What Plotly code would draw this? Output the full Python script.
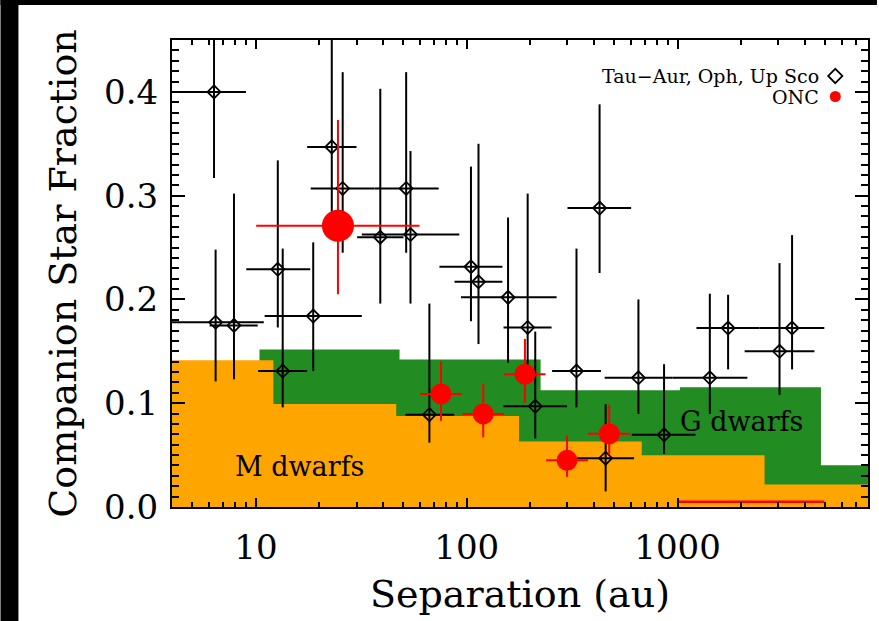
import numpy as np
import plotly.graph_objects as go

# ---------------- data ----------------
# Tau-Aur, Oph, Up Sco: separation bin centre / edges (au) and companion fraction with limits
tau_sep    = [6.33, 6.44, 7.87, 12.7, 13.4, 18.7, 22.9, 25.8, 38.9, 51.6, 54.1, 66.5, 104.7,
              113.7, 157.0, 194.5, 211.3, 331.5, 426.6, 455.8, 652.0, 862.6, 1422.0, 1736.0, 3044.0, 3491.0]
tau_sep_lo = [4.47, 3.81, 6.03, 9.0, 10.25, 11.0, 17.5, 18.2, 30.2, 36.5, 31.8, 51.2, 74.2,
              87.5, 93.9, 149.4, 149.4, 254.0, 300.6, 333.6, 451.0, 606.0, 944.0, 1229.0, 2080.0, 2449.0]
tau_sep_hi = [8.97, 10.9, 10.2, 18.1, 17.5, 31.8, 30.0, 36.5, 50.1, 73.6, 92.2, 87.2, 147.6,
              147.6, 266.8, 252.5, 299.0, 433.0, 602.0, 622.0, 944.0, 1216.0, 2143.0, 2449.0, 4457.0, 4966.0]
tau_frac   = [0.400, 0.178, 0.175, 0.229, 0.131, 0.184, 0.347, 0.307, 0.260, 0.307, 0.2625, 0.089, 0.2315,
              0.217, 0.202, 0.173, 0.097, 0.131, 0.288, 0.047, 0.1245, 0.0696, 0.1245, 0.1724, 0.150, 0.1724]
tau_lo     = [0.317, 0.121, 0.123, 0.173, 0.096, 0.131, 0.258, 0.245, 0.196, 0.245, 0.196, 0.062, 0.179,
              0.157, 0.139, 0.127, 0.066, 0.096, 0.2255, 0.015, 0.0897, 0.0511, 0.0897, 0.1326, 0.108, 0.1326]
tau_hi     = [0.483, 0.248, 0.302, 0.334, 0.249, 0.255, 0.470, 0.419, 0.403, 0.419, 0.343, 0.196, 0.328,
              0.350, 0.279, 0.302, 0.169, 0.249, 0.388, 0.099, 0.200, 0.1376, 0.2055, 0.2045, 0.235, 0.262]

# ONC
onc_sep    = [24.5, 75.5, 119.7, 188.8, 299.0, 474.0]
onc_sep_lo = [10.03, 60.1, 95.5, 150.3, 238.0, 375.6]
onc_sep_hi = [59.7, 94.8, 150.3, 236.6, 375.6, 596.0]
onc_frac   = [0.271, 0.109, 0.0897, 0.128, 0.045, 0.0706]
onc_lo     = [0.205, 0.083, 0.067, 0.1006, 0.029, 0.0505]
onc_hi     = [0.373, 0.1405, 0.119, 0.162, 0.069, 0.0984]
onc_npts   = [2.0, 1.0, 1.0, 1.0, 1.0, 1.0]       # relative sample weight -> marker size
# ONC bin with no companions found
onc_zero_sep = [1000.0, 4966.0]
onc_zero_frac = [0.005, 0.005]

# Field populations (step histograms): bin edges (au) and companion fraction per bin
m_edges = [3.17, 12.1, 46.3, 177.0, 676.0, 2585.0, 9890.0]
m_frac  = [0.1415, 0.0993, 0.0878, 0.0632, 0.0498, 0.0217]
g_edges = [10.4, 48.0, 224.0, 1026.0, 4786.0, 22000.0]
g_frac  = [0.1517, 0.1421, 0.1124, 0.1153, 0.0402]

x_ticks = [10, 100, 1000]
x_ticktext = ["10", "100", "1000"]
y_ticks = [0.0, 0.1, 0.2, 0.3, 0.4]
y_ticktext = ["0.0", "0.1", "0.2", "0.3", "0.4"]

# ---------------- figure ----------------
W, H = 879, 621
ML, MR, MT, MB = 172, 9, 40, 114
FONT = "DejaVu Serif"

fig = go.Figure()


def step_xy(edges, vals):
    return list(edges), list(vals) + [vals[-1]]


gx, gy = step_xy(g_edges, g_frac)
fig.add_trace(go.Scatter(x=gx, y=gy, mode="lines", line=dict(shape="hv", width=0, color="#228B22"),
                         fill="tozeroy", fillcolor="#228B22", hoverinfo="skip", showlegend=False))
mx, my = step_xy(m_edges, m_frac)
fig.add_trace(go.Scatter(x=mx, y=my, mode="lines", line=dict(shape="hv", width=0, color="#FFA500"),
                         fill="tozeroy", fillcolor="#FFA500", hoverinfo="skip", showlegend=False))

t_sep = np.array(tau_sep)
t_f = np.array(tau_frac)
fig.add_trace(go.Scatter(
    x=t_sep, y=t_f, mode="markers",
    marker=dict(symbol="diamond-open", size=10, color="black", opacity=1,
                line=dict(width=1.8, color="black")),
    error_x=dict(type="data", symmetric=False, array=np.array(tau_sep_hi) - t_sep,
                 arrayminus=t_sep - np.array(tau_sep_lo), color="black", thickness=2, width=0),
    error_y=dict(type="data", symmetric=False, array=np.array(tau_hi) - t_f,
                 arrayminus=t_f - np.array(tau_lo), color="black", thickness=2, width=0),
    showlegend=False))

fig.add_trace(go.Scatter(x=onc_zero_sep, y=onc_zero_frac, mode="lines",
                         line=dict(color="red", width=2.5), showlegend=False))

o_sep = np.array(onc_sep)
o_f = np.array(onc_frac)
fig.add_trace(go.Scatter(
    x=o_sep, y=o_f, mode="markers",
    marker=dict(symbol="circle", size=[21 + 11 * (n - 1) for n in onc_npts], color="red",
                opacity=1, line=dict(width=0)),
    error_x=dict(type="data", symmetric=False, array=np.array(onc_sep_hi) - o_sep,
                 arrayminus=o_sep - np.array(onc_sep_lo), color="red", thickness=2, width=0),
    error_y=dict(type="data", symmetric=False, array=np.array(onc_hi) - o_f,
                 arrayminus=o_f - np.array(onc_lo), color="red", thickness=2, width=0),
    showlegend=False))

# legend symbols on an overlay axis spanning the plot area in [0, 1]
fig.add_trace(go.Scatter(x=[0.953], y=[0.923], xaxis="x2", yaxis="y2", mode="markers",
                         marker=dict(symbol="diamond-open", size=11, color="black",
                                     line=dict(width=1.8, color="black")), showlegend=False))
fig.add_trace(go.Scatter(x=[0.953], y=[0.879], xaxis="x2", yaxis="y2", mode="markers",
                         marker=dict(symbol="circle", size=11, color="red"), showlegend=False))

minor_x = [v * d for d in (1, 10, 100, 1000) for v in range(2, 10)]
minor_y = [round(0.01 * i, 2) for i in range(0, 46)]

fig.update_layout(
    width=W, height=H,
    margin=dict(l=ML, r=MR, t=MT, b=MB),
    paper_bgcolor="white", plot_bgcolor="white",
    font=dict(family=FONT, color="black"),
    xaxis=dict(type="log", range=[np.log10(4), np.log10(8000)],
               tickmode="array", tickvals=x_ticks, ticktext=x_ticktext,
               ticks="inside", ticklen=9, tickwidth=2, tickcolor="black",
               showline=True, linewidth=2, linecolor="black", mirror="ticks",
               showgrid=False, zeroline=False,
               tickfont=dict(size=34, family=FONT), ticklabelstandoff=9,
               minor=dict(tickmode="array", tickvals=minor_x, ticks="inside", ticklen=5,
                          tickwidth=2, tickcolor="black", showgrid=False),
               title=dict(text="Separation (au)", font=dict(size=38, family=FONT), standoff=15)),
    yaxis=dict(range=[0, 0.45], tickmode="array", tickvals=y_ticks, ticktext=y_ticktext,
               ticks="inside", ticklen=13, tickwidth=2, tickcolor="black",
               showline=True, linewidth=2, linecolor="black", mirror="ticks",
               showgrid=False, zeroline=False,
               tickfont=dict(size=34, family=FONT), ticklabelstandoff=5,
               minor=dict(tickmode="array", tickvals=minor_y, ticks="inside", ticklen=7,
                          tickwidth=2, tickcolor="black", showgrid=False),
               title=dict(text="Companion Star Fraction", font=dict(size=38, family=FONT), standoff=16)),
    xaxis2=dict(overlaying="x", range=[0, 1], visible=False, fixedrange=True),
    yaxis2=dict(overlaying="y", range=[0, 1], visible=False, fixedrange=True),
)

# region labels and legend text
fig.add_annotation(text="M dwarfs", x=0.1834, y=0.0857, xref="paper", yref="paper",
                   xanchor="center", yanchor="middle",
                   showarrow=False, font=dict(size=27, family=FONT, color="black"))
fig.add_annotation(text="G dwarfs", x=0.818, y=0.184, xref="paper", yref="paper",
                   xanchor="center", yanchor="middle",
                   showarrow=False, font=dict(size=27, family=FONT, color="black"))
fig.add_annotation(text="Tau\u2212Aur, Oph, Up Sco", x=0.9327, y=0.923, xref="paper", yref="paper",
                   xanchor="right", yanchor="middle",
                   showarrow=False, font=dict(size=19, family=FONT, color="black"))
fig.add_annotation(text="ONC", x=0.9327, y=0.879, xref="paper", yref="paper",
                   xanchor="right", yanchor="middle",
                   showarrow=False, font=dict(size=19, family=FONT, color="black"))

# black frame strips along the top and left of the page
pw, ph = W - ML - MR, H - MT - MB
fig.add_shape(type="rect", xref="paper", yref="paper", layer="above",
              x0=-ML / pw, x1=(18 - ML) / pw, y0=-MB / ph, y1=(H - MB) / ph,
              fillcolor="black", line=dict(width=0))
fig.add_shape(type="rect", xref="paper", yref="paper", layer="above",
              x0=-ML / pw, x1=(W - ML) / pw, y0=(H - MB - 5) / ph, y1=(H - MB) / ph,
              fillcolor="black", line=dict(width=0))

fig.write_html("out.html")
